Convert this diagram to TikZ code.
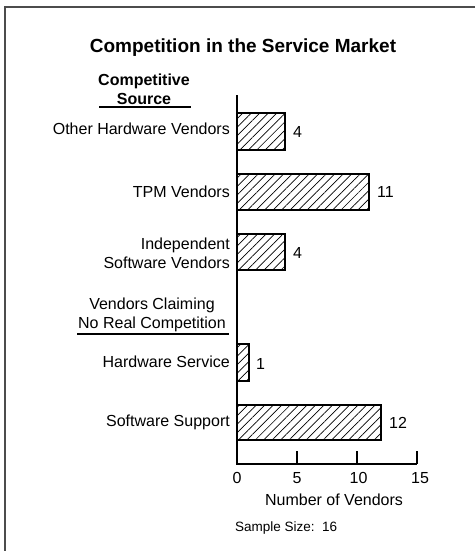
\documentclass[tikz,border=0pt]{standalone}
\usepackage{fontspec}
\setmainfont{Liberation Sans}
\usetikzlibrary{patterns.meta}
\begin{document}
\begin{tikzpicture}[x=1pt,y=-1pt,
  lab/.style={font=\fontsize{16}{18.5}\selectfont, inner sep=0pt, align=right, anchor=east},
  head/.style={font=\fontsize{16}{19}\selectfont, inner sep=0pt, align=center},
  val/.style={font=\fontsize{16}{18}\selectfont, inner sep=0pt, anchor=west},
  tick/.style={font=\fontsize{16}{18}\selectfont, inner sep=0pt},
  bar/.style={draw, line width=1.3pt, pattern={Lines[angle=45,distance=6pt,line width=0.7pt]}},
  axis/.style={line width=1.3pt},
  rule/.style={line width=1.2pt},
]
\useasboundingbox (0,0) rectangle (475,551);
% frame (top and left edges)
\draw[gray!60!black, line width=1.3pt] (475,7) -- (5,7) -- (5,551);

% title
\node[font=\bfseries\fontsize{19}{22}\selectfont, inner sep=0pt] (title) at (243,48) {Competition in the Service Market};

% column heading
\node[head, font=\bfseries\fontsize{16}{19}\selectfont] (src) at (144,89) {Competitive\\Source};
\draw[rule] (99,107) -- (191,107);

% category labels
\node[lab] (l1) at (230,129) {Other Hardware Vendors};
\node[lab] (l2) at (230,192) {TPM Vendors};
\node[lab] (l3) at (230,253.5) {Independent\\Software Vendors};
\node[head] (nrc) at (152,315) {Vendors Claiming\\No Real Competition};
\draw[rule] (77,334) -- (229,334);
\node[lab] (l4) at (230,362) {Hardware Service};
\node[lab] (l5) at (230,422) {Software Support};

% bars (12 units per vendor, origin at x = 237)
\draw[bar] (237,113) rectangle (285,150);
\draw[bar] (237,174) rectangle (369,210);
\draw[bar] (237,234) rectangle (285,270);
\draw[bar] (237,344) rectangle (249,381);
\draw[bar] (237,405) rectangle (381,440);

% values
\node[val] (v1) at (293,132) {4};
\node[val] (v2) at (377,192) {11};
\node[val] (v3) at (293,253) {4};
\node[val] (v4) at (256,364) {1};
\node[val] (v5) at (389,423) {12};

% axes
\draw[axis] (237,95) -- (237,464) -- (417,464);
\foreach \t in {297,357,417} \draw[axis] (\t,464) -- (\t,451);
\node[tick] (t0) at (237,478) {0};
\node[tick] (t5) at (297,478) {5};
\node[tick] (t10) at (358.5,478) {10};
\node[tick] (t15) at (420,478) {15};
\node[tick] (xl) at (334,500) {Number of Vendors};
\node[font=\fontsize{13.5}{16}\selectfont, inner sep=0pt, anchor=west] (ss) at (235,528) {Sample Size:\ \ 16};
\end{tikzpicture}
\end{document}
